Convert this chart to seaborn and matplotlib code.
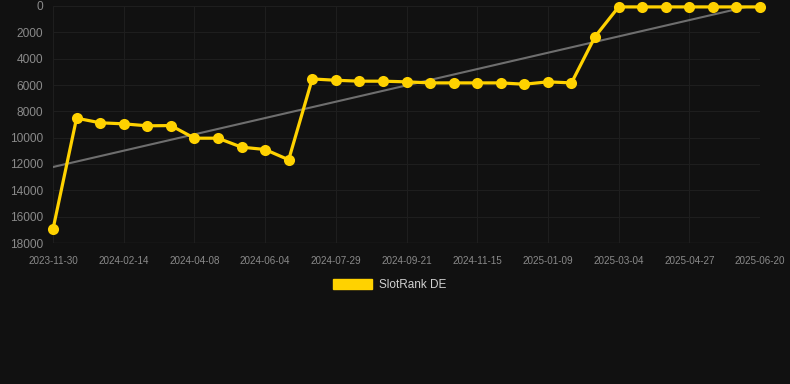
import numpy as np
import pandas as pd
import seaborn as sns
import matplotlib.pyplot as plt

# rank values, one per data point (evenly spaced categories)
rank_values = [16950, 8520, 8870, 8950, 9100, 9080, 10040, 10040, 10720, 10900,
               11680, 5540, 5640, 5710, 5710, 5760, 5840, 5840, 5840, 5840,
               5940, 5760, 5840, 2330, 70, 70, 70, 70, 70, 70, 70]
# every third point carries a date label
tick_labels = ['2023-11-30', '2024-02-14', '2024-04-08', '2024-06-04', '2024-07-29',
               '2024-09-21', '2024-11-15', '2025-01-09', '2025-03-04', '2025-04-27',
               '2025-06-20']
y_ticks = [0, 2000, 4000, 6000, 8000, 10000, 12000, 14000, 16000, 18000]
series_name = 'SlotRank DE'

bg = '#111111'
yellow = '#FFD200'

sns.set_style('dark')
plt.rcParams['font.family'] = ['Liberation Sans', 'DejaVu Sans']

df = pd.DataFrame({'idx': np.arange(len(rank_values)), 'rank': rank_values})

fig = plt.figure(figsize=(7.9, 3.84), dpi=100, facecolor=bg)
ax = fig.add_axes([53 / 790, 1 - 243 / 384, 707 / 790, 237 / 384])
ax.set_facecolor(bg)

# linear trend of the series
slope, intercept = np.polyfit(df['idx'], df['rank'], 1)
trend_x = np.array([0, len(rank_values) - 1])
ax.plot(trend_x, intercept + slope * trend_x, color='#6e6e6e', lw=1.5, zorder=2)

sns.lineplot(data=df, x='idx', y='rank', ax=ax, color=yellow, lw=2.3,
             marker='o', markersize=8, markeredgewidth=0, zorder=3, legend=False)
for ln in ax.lines[1:]:
    ln.set_clip_on(False)

ax.set_ylim(18000, 0)
ax.set_xlim(0, len(rank_values) - 1)
ax.set_yticks(y_ticks)
ax.set_yticklabels([str(v) for v in y_ticks])
ax.set_xticks(np.arange(0, len(rank_values), 3))
ax.set_xticklabels(tick_labels)
ax.set_xlabel('')
ax.set_ylabel('')

ax.grid(True, color='#1e1e1e', lw=0.8)
for s in ax.spines.values():
    s.set_visible(False)
ax.axhline(18000, color='#262626', lw=1, zorder=1)
ax.tick_params(axis='y', colors='#8a8a8a', labelsize=8.6, length=0, pad=7)
ax.tick_params(axis='x', colors='#2a2a2a', labelcolor='#8a8a8a', labelsize=7.1,
               length=5, width=0.8, pad=4)

# legend box drawn below the plot
handle = plt.Rectangle((0, 0), 1, 1, facecolor=yellow, edgecolor=yellow)
leg = fig.legend([handle], [series_name], loc='center', bbox_to_anchor=(390 / 790, 1 - 285 / 384),
                 frameon=False, handlelength=3.3, handleheight=0.9, handletextpad=0.6,
                 fontsize=8.5)
for t in leg.get_texts():
    t.set_color('#d0d0d0')

fig.savefig('out.png', dpi=100, facecolor=bg)
